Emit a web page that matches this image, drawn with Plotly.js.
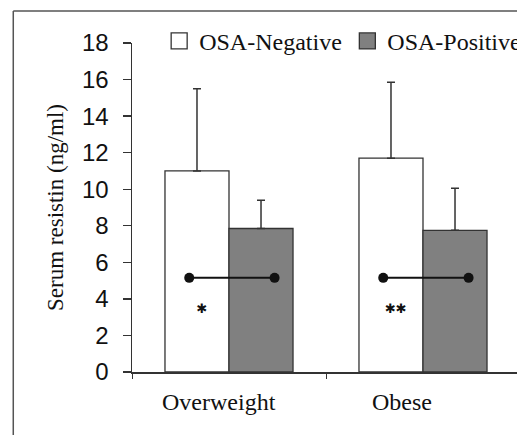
<!DOCTYPE html>
<html>
<head>
<meta charset="utf-8">
<script src="https://cdn.plot.ly/plotly-3.0.1.min.js"></script>
<style>
html,body{margin:0;padding:0;background:#fff;overflow:hidden;width:517px;height:435px;}
#chart{width:540px;height:435px;}
</style>
</head>
<body>
<div id="chart"></div>
<script>
const categories = ["Overweight", "Obese"];
const seriesNames = ["OSA-Negative", "OSA-Positive"];
const negValues = [11.0, 11.7];
const negErrors = [4.5, 4.15];
const posValues = [7.85, 7.75];
const posErrors = [1.55, 2.3];
const sigLevel = [5.15, 5.15];
const starLevel = [3.4, 3.4];
const starText = ["✱", "✱✱"];

const idx = categories.map((c, i) => i);
const edge = "#333333";
const fills = ["#ffffff", "#808080"];
const legendIds = ["legend", "legend2"];

const traces = [
  {
    type: "bar", name: seriesNames[0], x: idx, y: negValues, showlegend: false,
    marker: {color: fills[0], line: {color: edge, width: 1.3}},
    error_y: {type: "data", array: negErrors, symmetric: false,
      arrayminus: negErrors.map(() => 0), color: edge, thickness: 1.5, width: 4}
  },
  {
    type: "bar", name: seriesNames[1], x: idx, y: posValues, showlegend: false,
    marker: {color: fills[1], line: {color: edge, width: 1.3}},
    error_y: {type: "data", array: posErrors, symmetric: false,
      arrayminus: posErrors.map(() => 0), color: edge, thickness: 1.5, width: 4}
  }
];

// legend entries (square swatches like the original)
seriesNames.forEach((n, k) => {
  traces.push({
    type: "scatter", mode: "markers", name: n, x: [null], y: [null], legend: legendIds[k],
    marker: {symbol: "square", size: 16, color: fills[k], line: {color: edge, width: 1.3}}
  });
});

idx.forEach(i => {
  traces.push({
    type: "scatter", mode: "lines+markers", showlegend: false, hoverinfo: "skip",
    x: [i - 0.205, i + 0.235], y: [sigLevel[i], sigLevel[i]],
    line: {color: "#111", width: 2},
    marker: {color: "#111", size: 10}
  });
});
traces.push({
  type: "scatter", mode: "text", showlegend: false, hoverinfo: "skip",
  x: idx.map(i => i - 0.14), y: starLevel, text: starText,
  textfont: {family: "DejaVu Sans", size: 13, color: "#111"},
  textposition: "middle center"
});

const annotations = categories.map((c, i) => ({
  text: c, x: i, xref: "x", y: 0, yref: "paper", yanchor: "middle",
  yshift: -30, xshift: [-10, -21][i], showarrow: false,
  font: {family: "Liberation Serif, Times New Roman, serif", size: 24, color: "#111"}
}));

const legendFont = {family: "Liberation Serif, Times New Roman, serif", size: 24, color: "#111"};
const legendBase = {orientation: "h", xanchor: "left", y: 1.005, yanchor: "middle",
  bgcolor: "rgba(0,0,0,0)", itemwidth: 30, font: legendFont};

const layout = {
  width: 540, height: 435,
  margin: {l: 132, r: 20, t: 43, b: 63},
  paper_bgcolor: "#fff", plot_bgcolor: "#fff",
  barmode: "group", bargap: 0.34, bargroupgap: 0,
  showlegend: true,
  legend: Object.assign({}, legendBase, {x: 0.07}),
  legend2: Object.assign({}, legendBase, {x: 0.555}),
  xaxis: {type: "linear", range: [-0.5, 1.5], tickvals: [-0.5, 0.5, 1.5],
    showticklabels: false, ticks: "outside", ticklen: 5, tickcolor: edge,
    showline: true, linecolor: edge, linewidth: 1.5, showgrid: false, zeroline: false},
  yaxis: {range: [0, 18], dtick: 2, ticks: "outside", ticklen: 8, tickcolor: edge,
    tickwidth: 1.3, showline: true, linecolor: edge, linewidth: 1.5,
    showgrid: false, zeroline: false, ticklabelstandoff: 9, automargin: true,
    tickfont: {family: "Liberation Sans, Arial, sans-serif", size: 24, color: "#111"},
    title: {text: "Serum resistin (ng/ml)", standoff: 12,
      font: {family: "Liberation Serif, Times New Roman, serif", size: 23, color: "#111"}}},
  annotations: annotations,
  shapes: [
    {type: "line", xref: "paper", yref: "paper", x0: -0.306, x1: 1.2, y0: 1.097, y1: 1.097,
      line: {color: "#555", width: 1.5}},
    {type: "line", xref: "paper", yref: "paper", x0: -0.306, x1: -0.306, y0: 1.097, y1: -0.3,
      line: {color: "#555", width: 1.5}}
  ]
};

Plotly.newPlot("chart", traces, layout, {displayModeBar: false, staticPlot: true});
</script>
</body>
</html>
